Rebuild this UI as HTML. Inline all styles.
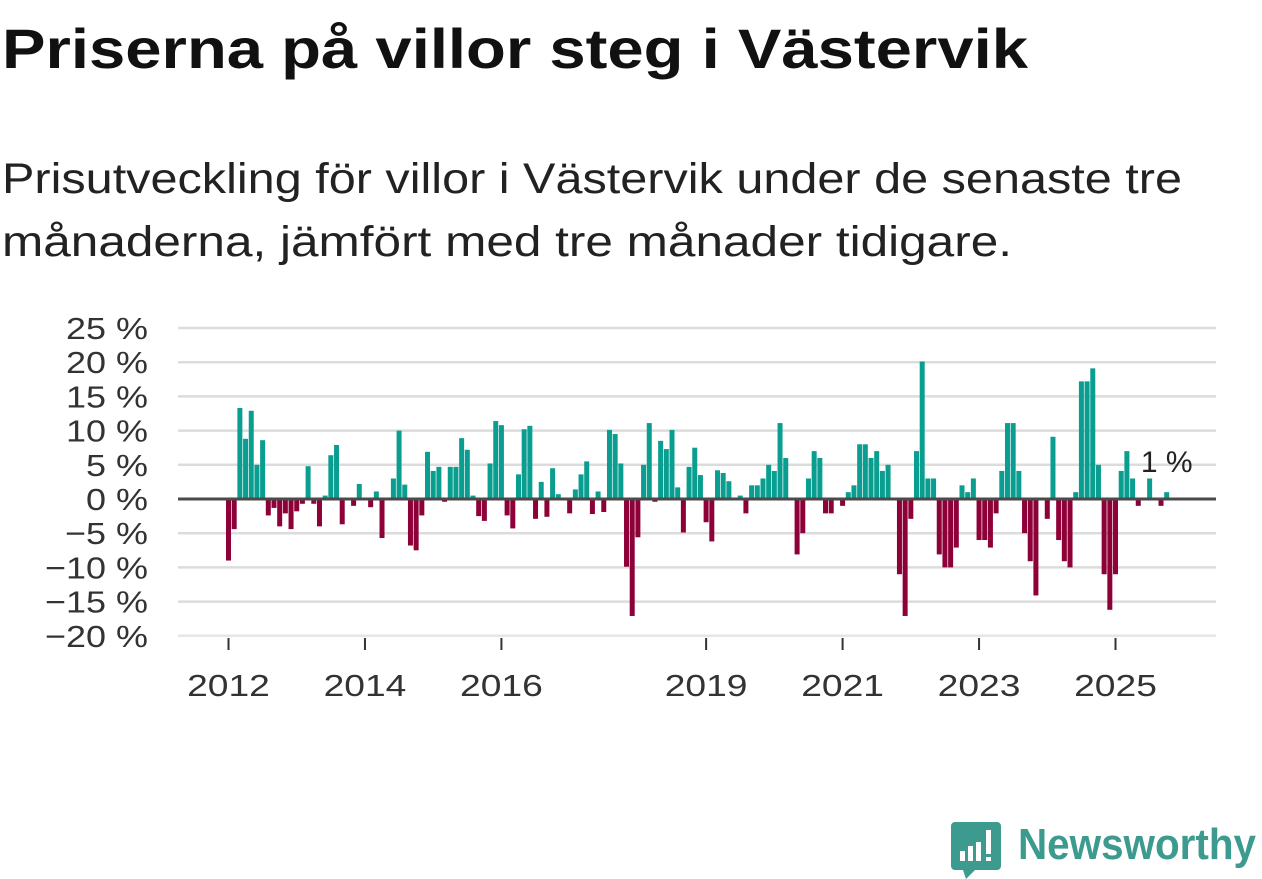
<!DOCTYPE html>
<html><head><meta charset="utf-8"><style>
html,body{margin:0;padding:0;background:#fff;}
svg{display:block;font-family:"Liberation Sans",sans-serif;}
</style></head><body>
<svg id="chart" width="1262" height="879" viewBox="0 0 1262 879">
<text x="2" y="68" font-size="56" font-weight="bold" fill="#111" textLength="1026" lengthAdjust="spacingAndGlyphs">Priserna på villor steg i Västervik</text>
<text x="2" y="193" font-size="43" fill="#222" textLength="1180" lengthAdjust="spacingAndGlyphs">Prisutveckling för villor i Västervik under de senaste tre</text>
<text x="2" y="256" font-size="43" fill="#222" textLength="1010" lengthAdjust="spacingAndGlyphs">månaderna, jämfört med tre månader tidigare.</text>
<g id="grid"></g>
<g id="ylabels"></g>
<g id="bars"></g>
<g id="xaxis"></g>
<text id="lastlabel" font-size="30" fill="#222" text-anchor="middle"></text>
<g>
<path d="M955 822 h42 a4 4 0 0 1 4 4 v40 a4 4 0 0 1 -4 4 h-22 l-9 9 l-3 -9 h-8 a4 4 0 0 1 -4 -4 v-40 a4 4 0 0 1 4 -4z" fill="#3d9a8e"/>
<rect x="960" y="851" width="5" height="10" fill="#fff"/><rect x="968" y="846" width="5" height="15" fill="#fff"/><rect x="976" y="842" width="5" height="19" fill="#fff"/><rect x="986" y="830" width="5" height="24" fill="#fff"/><rect x="986" y="857" width="5" height="4" fill="#fff"/>
<text x="1018" y="859" font-size="44" font-weight="bold" fill="#3d9a8e" textLength="238" lengthAdjust="spacingAndGlyphs">Newsworthy</text>
</g>
</svg>
<script>
const values = [-9.0,-4.4,13.3,8.8,12.9,5.0,8.6,-2.4,-1.3,-4.0,-2.1,-4.4,-1.8,-0.7,4.8,-0.7,-4.0,0.5,6.4,7.9,-3.7,0,-1.0,2.2,0,-1.2,1.1,-5.7,0,3.0,10.0,2.1,-6.8,-7.5,-2.4,6.9,4.1,4.7,-0.4,4.7,4.7,8.9,7.2,0.5,-2.5,-3.2,5.2,11.4,10.8,-2.4,-4.3,3.6,10.2,10.7,-2.9,2.5,-2.6,4.5,0.7,0,-2.1,1.4,3.6,5.5,-2.2,1.1,-1.9,10.1,9.5,5.2,-9.9,-17.1,-5.6,5.0,11.1,-0.4,8.5,7.3,10.1,1.7,-4.9,4.7,7.5,3.5,-3.4,-6.2,4.2,3.8,2.6,0,0.5,-2.1,2.0,2.0,3.0,5.0,4.1,11.1,6.0,0,-8.1,-5.0,3.0,7.0,6.0,-2.1,-2.1,0,-1.0,1.0,2.0,8.0,8.0,6.0,7.0,4.1,5.0,0,-11.0,-17.1,-2.9,7.0,20.1,3.0,3.0,-8.1,-10.0,-10.0,-7.1,2.0,1.0,3.0,-6.0,-6.0,-7.1,-2.1,4.1,11.1,11.1,4.1,-5.0,-9.1,-14.1,0,-2.9,9.1,-6.0,-9.1,-10.0,1.0,17.2,17.2,19.1,5.0,-11.0,-16.2,-11.0,4.1,7.0,3.0,-1.0,0,3.0,0,-1.0,1.0];
const startYear = 2012;
const yTicks = [25,20,15,10,5,0,-5,-10,-15,-20];
const yTickLabels = ["25 %","20 %","15 %","10 %","5 %","0 %","\u22125 %","\u221210 %","\u221215 %","\u221220 %"];
const xTickYears = [2012,2014,2016,2019,2021,2023,2025];
const lastLabel = "1 %";

const NS="http://www.w3.org/2000/svg";
const x = i => 228.5 + i*5.686;
const xYear = yr => x((yr-startYear)*12);
const y = v => 499 - v*6.84;
function mk(tag, attrs, parent){const e=document.createElementNS(NS,tag);for(const k in attrs)e.setAttribute(k,attrs[k]);parent.appendChild(e);return e;}
function widen(el,f){const w=el.getComputedTextLength();el.setAttribute('textLength',w*f);el.setAttribute('lengthAdjust','spacingAndGlyphs');}
const grid=document.getElementById('grid'), yl=document.getElementById('ylabels'), bars=document.getElementById('bars'), xa=document.getElementById('xaxis');
yTicks.forEach((t,k)=>{
  if(t!==0){const l=mk('line',{x1:178,x2:1216,y1:y(t),y2:y(t),stroke:t===-20?'#e6e6e6':'#dcdcdc','stroke-width':2.5},grid);
  
  }
  const tx=mk('text',{x:148,y:y(t)+11,'font-size':31,'text-anchor':'end',fill:'#333'},yl);
  tx.textContent=yTickLabels[k];
  
  
  widen(tx,1.16);
});
values.forEach((v,i)=>{
  if(v===0)return;
  const r=mk('rect',{x:x(i)-2.5,width:5,y:v>0?y(v):y(0),height:Math.abs(y(v)-y(0)),fill:v>0?'#0a9e90':'#8e0038'},bars);
  
  
});
const zl=mk('line',{x1:178,x2:1216,y1:y(0),y2:y(0),stroke:'#4a4a4a','stroke-width':3},xa);


xTickYears.forEach(yr=>{
  const t=mk('line',{x1:xYear(yr),x2:xYear(yr),y1:638,y2:650,stroke:'#333','stroke-width':2},xa);
  
  
  const tx=mk('text',{x:xYear(yr),y:696,'font-size':31,'text-anchor':'middle',fill:'#333'},xa);
  tx.textContent=yr;
  
  
  widen(tx,1.2);
});
const ll=document.getElementById('lastlabel');
ll.setAttribute('x',x(values.length-1));
ll.setAttribute('y',y(values[values.length-1])-20);
ll.textContent=lastLabel;
</script>
</body></html>
